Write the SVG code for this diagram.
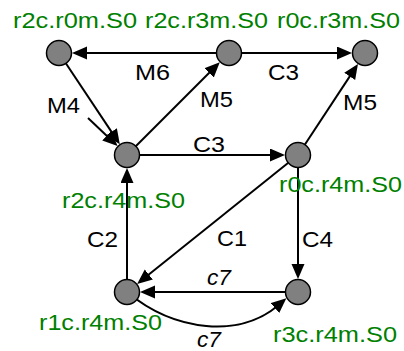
<svg xmlns="http://www.w3.org/2000/svg" width="404" height="351" viewBox="0 0 404 351">
<style>
.node circle{fill:#808080;stroke:#000;stroke-width:1.5}
.nl{fill:#008000;font-family:"Liberation Sans",Arial,sans-serif;font-size:21.5px}
.el{fill:#000;font-family:"Liberation Sans",Arial,sans-serif;font-size:21.5px}
.it{font-style:italic}
#edges path{fill:none;stroke:#000;stroke-width:2;marker-end:url(#arr)}
</style>
<defs>
<marker id="arr" markerUnits="userSpaceOnUse" markerWidth="16" markerHeight="14" refX="4" refY="6.5" orient="auto" viewBox="0 0 16 14">
<path d="M0,0 L15,6.5 L0,13 z" fill="#000"/>
</marker>
</defs>
<rect width="404" height="351" fill="#fff"/>
<g id="edges">
<path d="M229,53 L83,53"/>
<path d="M229,53 L341,53"/>
<path d="M59,53 L113.7,135.1"/>
<path d="M88,118 L109.6,138.5"/>
<path d="M127,155 L212,70"/>
<path d="M298,155 L351.9,73.1"/>
<path d="M127,155 L274,155"/>
<path d="M298,155 L145.7,277"/>
<path d="M127,292 L127,179"/>
<path d="M298,155 L298,268"/>
<path d="M298,292 L151,292"/>
<path d="M127,292 C175,332 240,338 278,305.5"/>
<text class="el" x="135" y="80" textLength="35" lengthAdjust="spacingAndGlyphs">M6</text>
<text class="el" x="268" y="80" textLength="31" lengthAdjust="spacingAndGlyphs">C3</text>
<text class="el" x="47" y="113" textLength="33" lengthAdjust="spacingAndGlyphs">M4</text>
<text class="el" x="200" y="107" textLength="33" lengthAdjust="spacingAndGlyphs">M5</text>
<text class="el" x="343" y="110" textLength="34" lengthAdjust="spacingAndGlyphs">M5</text>
<text class="el" x="193" y="152" textLength="32" lengthAdjust="spacingAndGlyphs">C3</text>
<text class="el" x="87" y="247" textLength="31" lengthAdjust="spacingAndGlyphs">C2</text>
<text class="el" x="217" y="246" textLength="30" lengthAdjust="spacingAndGlyphs">C1</text>
<text class="el" x="302" y="247" textLength="31" lengthAdjust="spacingAndGlyphs">C4</text>
<text class="el it" x="207" y="285" textLength="24" lengthAdjust="spacingAndGlyphs">c7</text>
<text class="el it" x="197" y="347" textLength="24" lengthAdjust="spacingAndGlyphs">c7</text>
</g>
<g id="n_r2c_r0m" class="node"><circle cx="59" cy="53" r="12.5"/><text class="nl" x="13" y="28" textLength="124" lengthAdjust="spacingAndGlyphs">r2c.r0m.S0</text></g>
<g id="n_r2c_r3m" class="node"><circle cx="229" cy="53" r="12.5"/><text class="nl" x="145" y="28" textLength="123" lengthAdjust="spacingAndGlyphs">r2c.r3m.S0</text></g>
<g id="n_r0c_r3m" class="node"><circle cx="365" cy="53" r="12.5"/><text class="nl" x="277" y="28" textLength="123" lengthAdjust="spacingAndGlyphs">r0c.r3m.S0</text></g>
<g id="n_r2c_r4m" class="node"><circle cx="127" cy="155" r="12.5"/><text class="nl" x="62" y="208" textLength="123" lengthAdjust="spacingAndGlyphs">r2c.r4m.S0</text></g>
<g id="n_r0c_r4m" class="node"><circle cx="298" cy="155" r="12.5"/><text class="nl" x="279" y="192" textLength="123" lengthAdjust="spacingAndGlyphs">r0c.r4m.S0</text></g>
<g id="n_r1c_r4m" class="node"><circle cx="127" cy="292" r="12.5"/><text class="nl" x="39" y="330" textLength="123" lengthAdjust="spacingAndGlyphs">r1c.r4m.S0</text></g>
<g id="n_r3c_r4m" class="node"><circle cx="298" cy="292" r="12.5"/><text class="nl" x="273" y="342" textLength="124" lengthAdjust="spacingAndGlyphs">r3c.r4m.S0</text></g>
</svg>
